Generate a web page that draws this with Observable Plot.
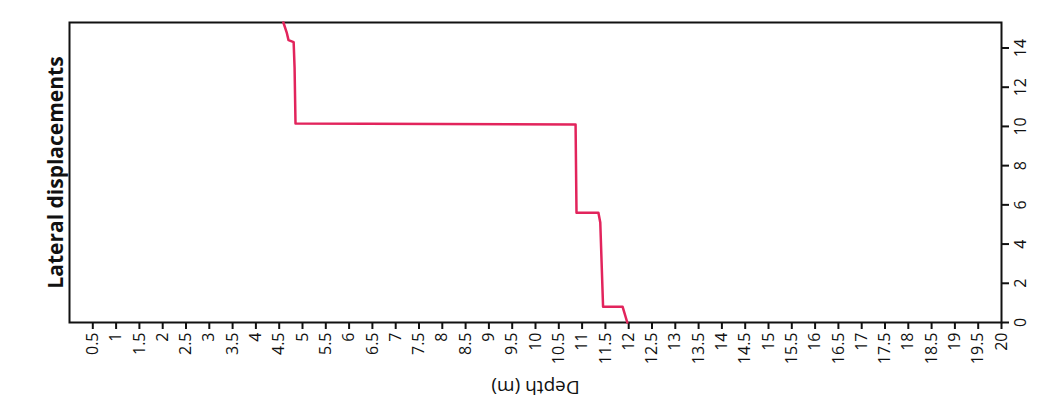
<!DOCTYPE html>
<html>
<head>
<meta charset="utf-8">
<script src="https://cdn.jsdelivr.net/npm/d3@7"></script>
<script src="https://cdn.jsdelivr.net/npm/@observablehq/plot@0.6"></script>
<style>
  html, body { margin: 0; padding: 0; background: #fff; }
  #chart svg { display: block; }
  #chart g[aria-label="x-axis tick label"] text,
  #chart g[aria-label="y-axis tick label"] text { font-size: 16px; fill: #111; }
</style>
</head>
<body>
<div id="chart"></div>
<script>
// Lateral displacement profile along depth
const depth = [4.59, 4.66, 4.70, 4.81, 4.83, 4.85, 10.86, 10.88, 11.35, 11.39, 11.45, 11.87, 11.97];
const displacement = [15.3, 14.8, 14.4, 14.3, 13.0, 10.15, 10.1, 5.6, 5.6, 5.1, 0.8, 0.8, 0];

// Axis ticks
const depthTicks = d3.range(1, 41).map(i => i / 2);   // 0.5 … 20
const dispTicks = [0, 2, 4, 6, 8, 10, 12, 14];

const rows = depth.map((d, i) => ({depth: d, disp: displacement[i]}));

const font = "'Open Sans', 'Liberation Sans', sans-serif";

const chart = Plot.plot({
  width: 1040,
  height: 405,
  marginLeft: 69,
  marginRight: 39,
  marginTop: 22,
  marginBottom: 83,
  style: {fontFamily: font, fontSize: "14px", color: "#111", background: "#fff"},
  x: {domain: [0, 20]},
  y: {domain: [0, 15.3]},
  marks: [
    Plot.axisX({
      ticks: depthTicks,
      tickFormat: d => String(d),
      tickRotate: -90,
      tickSize: 7,
      tickPadding: 3,
      strokeWidth: 2,
      label: null
    }),
    Plot.axisY({
      anchor: "right",
      ticks: dispTicks,
      tickRotate: -90,
      tickSize: 7,
      tickPadding: 17,
      strokeWidth: 2,
      label: null
    }),
    Plot.frame({stroke: "#111", strokeWidth: 2}),
    Plot.line(rows, {
      x: "depth",
      y: "disp",
      stroke: "#e2245c",
      strokeWidth: 2.5,
      curve: "linear"
    }),
    // Depth axis title, drawn upside down
    Plot.text(["Depth (m)"], {
      frameAnchor: "bottom",
      textAnchor: "middle",
      dy: 58,
      rotate: 180,
      fontSize: 19,
      fill: "#111"
    }),
    // Displacement title on the left
    Plot.text(["Lateral displacements"], {
      frameAnchor: "left",
      textAnchor: "middle",
      dx: -13,
      rotate: -90,
      fontSize: 21,
      fontWeight: "bold",
      fill: "#111"
    })
  ]
});

document.getElementById("chart").appendChild(chart);
</script>
</body>
</html>
